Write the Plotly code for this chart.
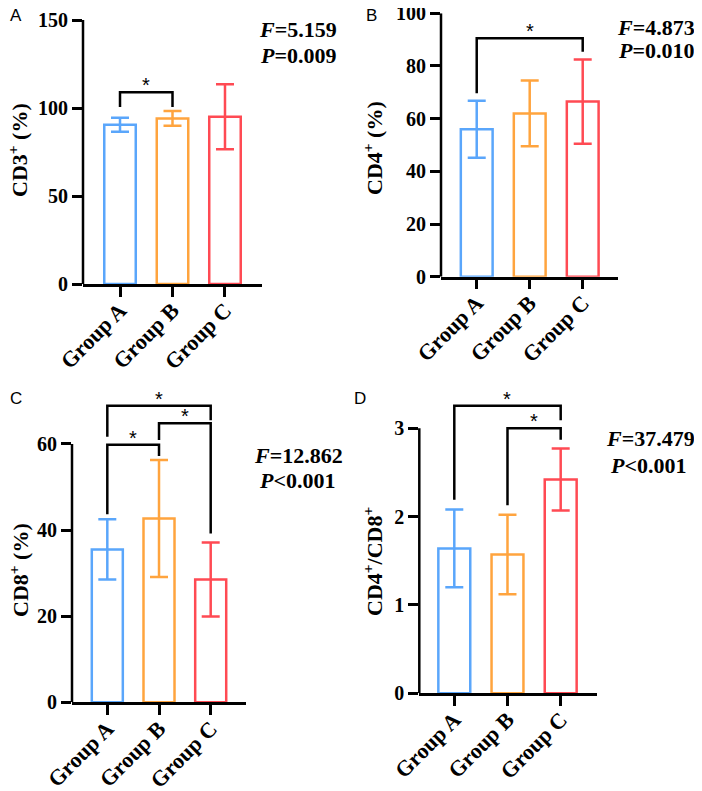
import plotly.graph_objects as go

# page body has an 8px default margin, so the figure is shrunk by it
OFF = 8
W, H = 702 - OFF, 791 - OFF

groups = ["Group A", "Group B", "Group C"]
colors = ["#5aa6fb", "#ffa43e", "#ff4a53"]

cd3_mean = [90.5, 94.1, 95.0]
cd3_sd = [4.0, 4.2, 18.5]
cd4_mean = [56.0, 62.0, 66.5]
cd4_sd = [10.8, 12.5, 16.0]
cd8_mean = [35.5, 42.7, 28.5]
cd8_sd = [7.0, 13.6, 8.6]
ratio_mean = [1.64, 1.57, 2.42]
ratio_sd = [0.44, 0.45, 0.35]

y_titles = ["CD3<sup>+</sup> (%)", "CD4<sup>+</sup> (%)", "CD8<sup>+</sup> (%)",
            "CD4<sup>+</sup>/CD8<sup>+</sup>"]
f_values = ["5.159", "4.873", "12.862", "37.479"]
p_values = ["=0.009", "=0.010", "<0.001", "<0.001"]
panel_letters = ["A", "B", "C", "D"]
y_ticks = [[0, 50, 100, 150], [0, 20, 40, 60, 80, 100], [0, 20, 40, 60], [0, 1, 2, 3]]

# significance brackets: (panel, group i, group j, top, left leg end, right leg end)
brackets = [
    (0, 0, 1, 108.9, 100.6, 100.6),
    (1, 0, 2, 90.5, 69.6, 85.4),
    (2, 0, 1, 59.8, 43.7, 57.2),
    (2, 1, 2, 64.8, 60.9, 39.2),
    (2, 0, 2, 68.9, 61.7, 65.5),
    (3, 0, 2, 3.256, 2.19, 3.09),
    (3, 1, 2, 3.0, 2.13, 2.87),
]

means = [cd3_mean, cd4_mean, cd8_mean, ratio_mean]
sds = [cd3_sd, cd4_sd, cd8_sd, ratio_sd]

# layout geometry (screen pixels of the reference)
panels = [
    dict(x=(83, 262), y=(20, 284), yr=(0, 150), xr=(-0.705, 2.705)),
    dict(x=(441, 618), y=(13.3, 276.7), yr=(0, 100), xr=(-0.674, 2.666)),
    dict(x=(72, 245.7), y=(400.9, 702.3), yr=(0, 70), xr=(-0.683, 2.677)),
    dict(x=(419.3, 596.7), y=(401.8, 693.3), yr=(0, 3.3), xr=(-0.658, 2.677)),
]
title_pos = [(18, 150), (373, 148), (19, 570), (373, 562)]
f_pos = [(298, 29), (656, 27), (298, 455), (650, 438)]
p_pos = [(298, 55), (656, 51), (297, 480), (648, 465)]
letter_pos = [(8, 4), (364, 4), (8, 387), (352, 387)]


def px(x):
    return (x - OFF) / W


def py(y):
    return 1 - (y - OFF) / H


SERIF = "Liberation Serif"
SANS = "Liberation Sans"
LW = 2.5

fig = go.Figure()
annotations = []
shapes = []

for p in range(4):
    xa = "x" if p == 0 else f"x{p+1}"
    ya = "y" if p == 0 else f"y{p+1}"
    for i in range(3):
        fig.add_trace(go.Bar(
            x=[i], y=[means[p][i]], width=0.6,
            marker=dict(color="white", line=dict(color=colors[i], width=LW)),
            error_y=dict(type="data", array=[sds[p][i]], visible=True,
                         color=colors[i], thickness=LW, width=9),
            xaxis=xa, yaxis=ya, showlegend=False, hoverinfo="skip",
        ))
    g = panels[p]
    xkey = "xaxis" if p == 0 else f"xaxis{p+1}"
    ykey = "yaxis" if p == 0 else f"yaxis{p+1}"
    fig.layout[xkey] = dict(
        domain=[px(g["x"][0]), px(g["x"][1])], anchor=ya, range=list(g["xr"]),
        tickvals=[0, 1, 2], ticktext=groups, tickangle=-45, automargin=False,
        showline=True, linecolor="black", linewidth=LW,
        ticks="outside", ticklen=10, tickwidth=LW, tickcolor="black",
        ticklabelstandoff=-8, ticklabeloverflow="allow",
        tickfont=dict(family=SERIF, size=22, color="black", weight="bold"),
        showgrid=False, zeroline=False, fixedrange=True,
    )
    fig.layout[ykey] = dict(
        domain=[py(g["y"][1]), py(g["y"][0])], anchor=xa, range=list(g["yr"]),
        tickvals=y_ticks[p], showline=False, automargin=False,
        ticks="outside", ticklen=10, tickwidth=LW, tickcolor="black",
        ticklabeloverflow="allow",
        tickfont=dict(family=SERIF, size=20, color="black", weight="bold"),
        showgrid=False, zeroline=False, fixedrange=True,
    )
    # y spine up to top tick
    shapes.append(dict(type="line", xref=f"{xa} domain", yref=ya, x0=0, x1=0,
                       y0=0, y1=y_ticks[p][-1], line=dict(color="black", width=LW)))
    tx, ty = title_pos[p]
    annotations.append(dict(text=f"<b>{y_titles[p]}</b>", x=px(tx), y=py(ty),
                            xref="paper", yref="paper", xanchor="center", yanchor="middle",
                            textangle=-90, showarrow=False,
                            font=dict(family=SERIF, size=22, color="black")))
    for txt, (sx, sy) in ((f"<b><i>F</i>={f_values[p]}</b>", f_pos[p]),
                          (f"<b><i>P</i>{p_values[p]}</b>", p_pos[p])):
        annotations.append(dict(
            text=txt, x=px(sx), y=py(sy), xref="paper", yref="paper", showarrow=False,
            xanchor="center", yanchor="middle",
            font=dict(family=SERIF, size=22, color="black")))
    lx, ly = letter_pos[p]
    annotations.append(dict(text=panel_letters[p], x=px(lx), y=py(ly),
                            xref="paper", yref="paper", xanchor="left", yanchor="top",
                            showarrow=False, font=dict(family=SANS, size=17, color="black")))

for (p, i, j, top, le, re) in brackets:
    xa = "x" if p == 0 else f"x{p+1}"
    ya = "y" if p == 0 else f"y{p+1}"
    shapes.append(dict(type="path", xref=xa, yref=ya,
                       path=f"M {i},{le} L {i},{top} L {j},{top} L {j},{re}",
                       line=dict(color="black", width=LW)))
    annotations.append(dict(text="*", x=(i + j) / 2, y=top, xref=xa, yref=ya,
                            xanchor="center", yanchor="bottom", showarrow=False, yshift=-6,
                            font=dict(family=SANS, size=20, color="black")))

fig.update_layout(
    template="none",
    width=W, height=H, margin=dict(l=0, r=0, t=0, b=0, autoexpand=False),
    paper_bgcolor="white", plot_bgcolor="white",
    barmode="overlay", shapes=shapes, annotations=annotations,
)

fig.write_html("out.html")
